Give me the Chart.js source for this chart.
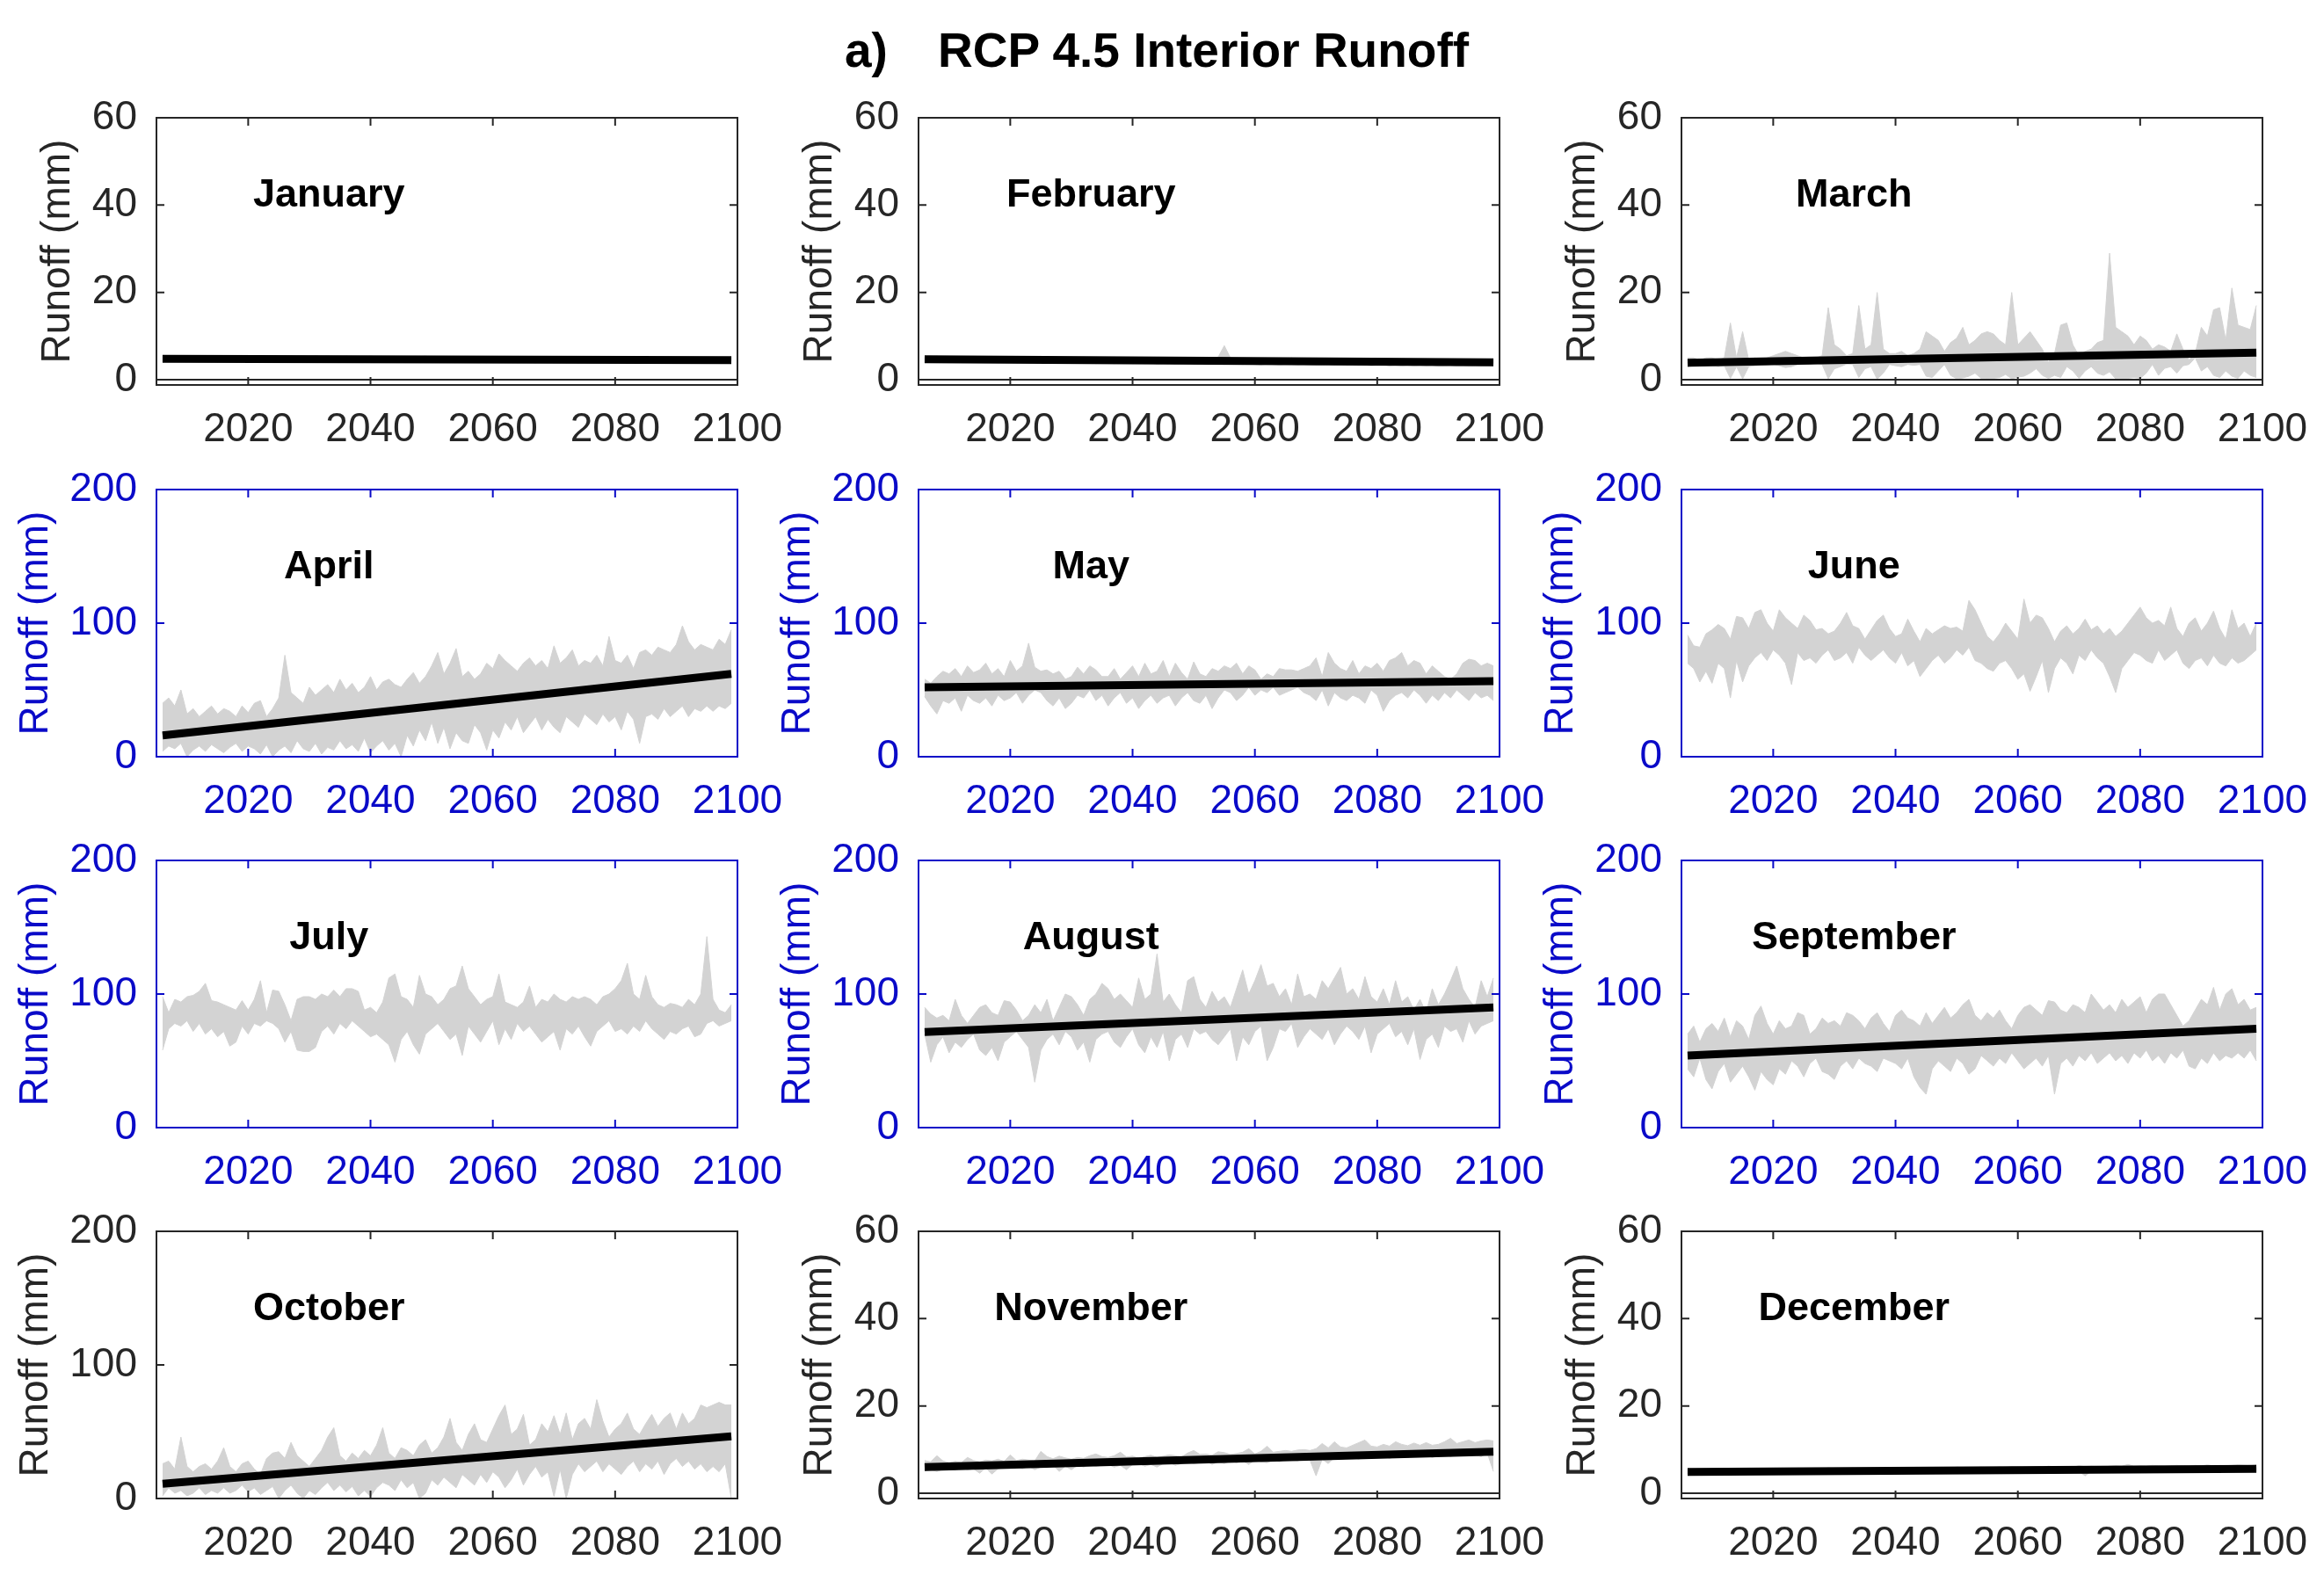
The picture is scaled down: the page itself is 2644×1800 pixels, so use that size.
<!DOCTYPE html>
<html>
<head>
<meta charset="utf-8">
<script src="https://cdn.jsdelivr.net/npm/chart.js@4.4.0/dist/chart.umd.min.js"></script>
<style>
  body { margin: 0; background: #fff; }
  #page { position: relative; width: 2644px; height: 1800px; overflow: hidden; background: #fff; }
  .title { position: absolute; top: 30px; font: bold 55px "Liberation Sans", Arial, sans-serif; line-height: 55px; color: #000; white-space: pre; }
  canvas { position: absolute; }
</style>
</head>
<body>
<div id="page">
  <div class="title" style="left:961px">a)</div>
  <div class="title" style="left:1067px">RCP 4.5 Interior Runoff</div>
</div>
<script>
// years 2006..2099, one value per year
const years = Array.from({ length: 94 }, (_, i) => 2006 + i);
const trendYears = [2006, 2099];
const xTicks = [2020, 2040, 2060, 2080, 2100];
const smallTicks = [0, 20, 40, 60];
const bigTicks = [0, 100, 200];

const janHi = [5.4,5.5,5.3,5.4,5.5,5.4,5.3,5.5,5.4,5.3, 5.4,5.3,5.5,5.4,5.3,5.4,5.4,5.3,5.5,5.4,
  5.3,5.4,5.3,5.4,5.3,5.5,5.3,5.4,5.3,5.3, 5.4,5.3,5.2,5.3,5.4,5.3,5.2,5.3,5.3,5.2,
  5.3,5.2,5.3,5.4,5.2,5.3,5.2,5.3,5.2,5.3, 5.2,5.3,5.2,5.1,5.3,5.2,5.2,5.3,5.1,5.2,
  5.2,5.1,5.2,5.3,5.1,5.2,5.1,5.2,5.1,5.2, 5.1,5.2,5.1,5.0,5.2,5.1,5.1,5.2,5.0,5.1,
  5.1,5.0,5.1,5.2,5.0,5.1,5.0,5.1,5.0,5.1, 5.0,5.1,5.0,5.1];
const janLo = [4.2,4.3,4.1,4.2,4.3,4.2,4.1,4.3,4.2,4.1, 4.2,4.1,4.3,4.2,4.1,4.2,4.2,4.1,4.3,4.2,
  4.1,4.2,4.1,4.2,4.1,4.3,4.1,4.2,4.1,4.1, 4.2,4.1,4.0,4.1,4.2,4.1,4.0,4.1,4.1,4.0,
  4.1,4.0,4.1,4.2,4.0,4.1,4.0,4.1,4.0,4.1, 4.0,4.1,4.0,3.9,4.1,4.0,4.0,4.1,3.9,4.0,
  4.0,3.9,4.0,4.1,3.9,4.0,3.9,4.0,3.9,4.0, 3.9,4.0,3.9,3.8,4.0,3.9,3.9,4.0,3.8,3.9,
  3.9,3.8,3.9,4.0,3.8,3.9,3.8,3.9,3.8,3.9, 3.8,3.9,3.8,3.9];
const janTrend = [4.8, 4.5];

const febHi = [5.3,5.2,5.4,5.2,5.3,5.1,5.2,5.3,5.1,5.2, 5.1,5.2,5.0,5.1,5.2,5.0,5.1,5.0,5.1,5.0,
  5.0,4.9,5.0,5.1,4.9,5.0,4.9,5.0,4.8,4.9, 4.9,4.8,4.9,5.0,4.8,4.9,4.8,4.9,4.7,4.8,
  4.8,4.7,4.8,4.9,4.7,4.8,4.7,4.8,5.2,7.8, 5.0,4.7,4.6,4.7,4.6,4.5,4.7,4.6,4.5,4.6,
  5.0,4.5,4.6,4.5,4.4,4.5,4.6,4.4,4.5,4.4, 4.5,4.4,4.5,4.3,4.4,4.5,4.3,4.4,4.3,4.4,
  4.3,4.4,4.3,4.4,4.2,4.3,4.4,4.2,4.3,4.2, 4.3,4.2,4.3,4.2];
const febLo = [4.2,4.1,4.3,4.1,4.2,4.0,4.1,4.2,4.0,4.1, 4.0,4.1,3.9,4.0,4.1,3.9,4.0,3.9,4.0,3.9,
  3.9,3.8,3.9,4.0,3.8,3.9,3.8,3.9,3.7,3.8, 3.8,3.7,3.8,3.9,3.7,3.8,3.7,3.8,3.6,3.7,
  3.7,3.6,3.7,3.8,3.6,3.7,3.6,3.7,3.6,3.5, 3.6,3.6,3.5,3.6,3.5,3.4,3.6,3.5,3.4,3.5,
  3.5,3.4,3.5,3.4,3.3,3.4,3.5,3.3,3.4,3.3, 3.4,3.3,3.4,3.2,3.3,3.4,3.2,3.3,3.2,3.3,
  3.2,3.3,3.2,3.3,3.1,3.2,3.3,3.1,3.2,3.1, 3.2,3.1,3.2,3.1];
const febTrend = [4.7, 4.0];

const marHi = [5,5,4.5,5,5,4.5,5,13,5,11, 4.5,5,4.5,5,5.5,6,6.5,6,5.5,5,
  5,5,5.5,16.5,8,7,5.5,6,17,7, 8,20,7,6,6,6.5,5.5,6,7,11,
  10,9,6.5,8.5,9.5,12,8,9,10.5,11, 10.5,9,8,20,8,9.5,11,9,7,4,
  6,12.5,13,8,5.5,6.5,7,8.5,9,29, 12,11,10,8,10,9,7,8,7.5,6.5,
  10.5,7,4.5,6,12,10,16,16.5,9,21, 12.5,12,11.5,17];
const marLo = [3,3.2,3.3,3.2,3.3,3,3.2,0.3,3,0.2, 3,3.2,3.3,3.4,3.6,3.2,2.8,3,3.5,3.6,
  3.6,3.8,3.5,0.2,2.5,3,3.6,3.5,0.5,2.5, 3,0.1,1.5,3.5,3.2,3,3.5,3.3,3.5,0.8,
  0.5,2,3.5,1,0.2,0.4,0.8,1.5,0.3,0.2, 0.3,0.5,1.2,0.2,0.6,0.8,1.5,2.5,1,0.3,
  1,0.5,3,2,0.3,2,3,1.5,1,1.8, 0.2,0.3,0.3,0.5,0.3,1.5,3.5,1,2.6,3,
  1.5,3.2,3.5,5,2,3,1,0.5,2,0.8, 0.3,2,1,0.5];
const marTrend = [3.9, 6.2];

const aprHi = [40,44,38,50,32,36,30,34,38,32, 36,34,30,38,33,40,42,30,36,44,
  76,48,44,40,52,46,50,54,48,58, 50,55,48,52,60,50,56,58,54,52,
  58,63,55,60,68,78,62,70,81,60, 64,58,62,70,66,77,72,68,64,70,
  74,68,72,66,83,70,74,80,68,72, 70,76,68,90,72,70,76,66,78,80,
  76,82,80,78,84,98,86,80,84,82, 80,88,84,95];
const aprLo = [4,8,6,10,0,5,8,4,9,6, 3,7,10,4,8,6,2,9,0,5,
  8,3,12,6,4,10,2,7,5,12, 6,9,4,14,3,8,12,5,10,0,
  16,8,20,12,26,10,22,6,18,12, 10,24,18,5,20,14,26,20,30,18,
  24,30,20,28,22,18,30,26,22,32, 28,24,32,26,30,20,34,28,10,30,
  32,28,36,30,34,38,30,36,34,38, 34,38,36,40];
const aprTrend = [16, 62];

const mayHi = [58,55,60,64,62,66,60,68,63,65, 70,62,66,60,72,64,68,85,67,64,
  65,62,64,58,60,67,62,68,65,60, 60,66,58,63,68,60,70,62,64,72,
  60,70,63,58,71,62,60,66,64,68, 66,70,62,68,65,58,62,60,66,65,
  65,64,66,68,74,60,78,70,66,64, 72,62,68,66,70,64,72,74,78,68,
  72,70,62,68,64,60,58,62,70,73, 72,68,70,68];
const mayLo = [45,38,32,42,40,44,34,46,42,40, 44,38,46,42,44,48,40,46,50,48,
  42,38,44,36,40,46,44,50,42,46, 38,44,48,40,44,36,42,46,40,44,
  46,38,44,48,42,40,46,36,44,50, 48,42,46,52,46,50,48,52,46,48,
  50,52,48,46,42,50,38,48,44,42, 46,44,40,50,46,34,42,46,48,44,
  50,46,40,46,42,48,44,50,46,42, 48,44,46,42];
const mayTrend = [52, 56.5];

const junHi = [91,83,82,92,95,99,96,88,105,104, 96,108,110,100,94,110,104,100,96,106,
  102,95,96,92,94,100,108,98,96,88, 95,102,106,96,90,92,103,94,86,96,
  92,95,98,96,97,94,117,110,100,90, 86,92,100,94,88,118,100,106,104,96,
  86,94,98,92,96,103,95,98,92,96, 90,94,100,106,112,104,100,102,98,112,
  96,90,100,104,94,100,109,96,88,110, 96,100,90,100];
const junLo = [70,66,56,64,55,70,66,44,72,56, 68,74,78,72,80,76,70,54,78,72,
  74,70,76,80,72,74,78,70,82,76, 72,76,80,74,70,78,68,72,60,66,
  72,76,70,74,80,76,82,72,70,66, 64,70,72,66,58,62,49,60,72,48,
  66,74,70,62,76,72,80,74,70,60, 48,66,72,78,76,72,70,80,72,76,
  80,70,66,72,74,68,76,70,68,74, 70,72,76,80];

const julHi = [98,86,96,94,98,99,102,108,95,94, 92,90,88,95,88,96,110,86,103,102,
  92,80,96,98,98,96,100,98,103,98, 104,104,102,88,90,86,94,112,115,98,
  96,90,114,100,98,92,96,104,106,121, 104,98,92,96,98,115,94,92,90,94,
  106,90,96,94,100,96,94,98,96,98, 96,92,98,100,104,110,123,100,96,114,
  98,92,90,93,92,90,96,92,100,143, 96,88,86,92];
const julLo = [58,74,78,76,80,72,78,70,74,68, 72,61,64,76,70,78,76,80,78,74,
  64,72,58,57,57,60,72,76,70,78, 74,80,76,72,68,70,66,62,49,66,
  72,62,55,70,74,78,72,66,70,54, 76,70,64,72,80,62,74,66,78,72,
  76,70,64,68,72,58,74,70,76,68, 61,72,76,80,72,74,70,76,72,80,
  74,70,66,72,70,74,76,68,70,78, 80,76,78,80];

const augHi = [90,85,82,84,80,96,84,78,84,90, 92,86,84,95,94,88,80,84,92,86,
  96,80,90,100,98,92,84,96,100,108, 104,96,100,95,90,112,96,100,130,94,
  100,92,86,110,113,96,90,102,94,98, 90,104,118,100,110,122,106,108,98,104,
  92,115,98,100,96,110,104,112,120,100, 104,96,113,98,94,104,92,110,94,98,
  88,96,86,104,92,100,110,121,104,96, 90,110,98,112];
const augLo = [70,49,62,68,56,64,60,66,70,58, 54,60,50,64,68,72,66,60,34,58,
  66,70,62,72,68,58,64,49,66,70, 72,64,60,68,74,62,56,68,60,72,
  50,66,70,60,74,70,72,66,62,68, 74,50,68,62,72,76,50,60,74,72,
  78,60,68,74,70,66,74,62,70,76, 72,66,76,56,70,74,78,68,72,62,
  74,51,66,70,60,76,72,74,64,80, 70,76,78,80];
const augTrend = [71.5, 90];

const sepHi = [70,76,64,74,78,72,82,68,80,76, 66,84,91,78,70,80,74,76,86,84,
  70,74,82,78,80,76,86,84,80,74, 82,86,78,72,84,88,82,80,76,86,
  78,84,90,82,86,92,96,84,80,86, 82,88,80,74,84,90,92,88,84,95,
  94,88,86,92,90,86,100,94,88,92, 86,96,90,94,98,86,96,100,100,92,
  84,76,80,88,96,92,105,88,100,104, 92,96,88,90];
const sepLo = [44,38,52,36,29,42,48,34,40,46, 38,28,42,36,32,44,40,50,46,38,
  48,52,42,40,36,46,50,44,52,48, 46,42,52,50,48,44,52,38,30,25,
  44,50,46,42,52,48,40,44,54,50, 46,52,48,56,50,44,48,52,46,54,
  25,48,52,46,54,50,56,48,52,56, 50,54,48,56,52,58,50,54,48,56,
  52,58,46,44,52,48,56,50,54,52, 56,52,58,50];
const sepTrend = [54, 74];

const octHi = [26,28,22,46,24,20,24,26,22,28, 38,24,20,26,28,22,18,30,34,35,
  30,42,32,28,24,30,36,46,53,32, 28,34,30,36,32,40,53,34,30,38,
  36,32,40,44,34,38,46,60,42,36, 48,56,44,42,52,62,70,48,52,63,
  40,44,56,50,62,48,64,44,56,60, 52,74,58,46,52,56,64,52,48,56,
  63,54,60,64,52,64,56,60,70,68, 70,72,70,70];
const octLo = [2,8,4,6,2,4,8,3,6,4, 8,4,6,10,5,8,3,6,9,0,
  6,10,4,0,6,3,8,12,6,10, 5,9,2,6,1.5,8,12,10,6,14,
  8,12,0,4,14,10,16,12,8,18, 14,10,18,12,20,16,8,14,22,10,
  18,24,16,20,1.5,22,0,18,26,20, 24,28,20,26,22,18,24,28,20,26,
  22,28,18,26,30,24,28,22,26,20, 24,20,26,0];
const octTrend = [11, 46.5];

const novHi = [7.5,7.2,8.6,7.4,7.0,7.3,7.0,8.2,7.5,7.2, 7.6,7.4,7.8,7.3,8.8,7.5,7.8,7.6,7.4,9.6,
  8.4,7.9,8.5,8.1,7.8,8.2,8.0,8.6,9.0,8.4, 8.2,8.6,9.4,8.3,8.5,8.0,8.4,8.7,8.2,8.5,
  8.8,8.6,8.3,9.2,9.8,8.9,9.0,8.7,9.5,9.3, 8.9,9.1,9.4,10.2,9.0,9.6,10.8,9.4,9.6,9.8,
  9.6,9.9,10.0,9.8,10.2,11.4,10.4,11.8,10.6,10.4, 11.0,11.6,12.2,10.8,10.6,11.2,10.8,11.8,11.2,10.9,
  11.5,11.0,11.6,11.0,11.2,11.8,12.6,11.4,11.8,12.2, 11.6,12.0,12.2,12.0];
const novLo = [5.2,5.4,5.0,5.5,5.6,5.3,5.8,5.4,5.6,4.6, 5.8,4.4,5.6,6.0,5.8,6.0,5.6,6.2,5.4,6.0,
  6.2,6.4,5.0,6.2,5.4,6.4,6.0,6.6,6.2,6.4, 6.6,6.0,6.4,5.4,6.6,6.8,6.2,6.6,6.0,6.8,
  7.0,6.4,6.8,7.2,6.8,7.0,7.4,6.6,7.2,6.8, 7.4,7.0,7.4,6.6,7.6,7.2,7.0,7.6,7.2,7.8,
  7.6,7.4,8.0,7.6,4.0,7.8,6.8,8.2,7.8,8.0, 8.2,7.8,8.4,8.0,8.2,8.6,8.0,8.4,8.8,8.2,
  8.6,8.4,8.8,8.2,8.6,9.0,8.4,8.8,8.6,9.0, 8.8,8.4,9.2,5.0];
const novTrend = [6, 9.5];

const decHi = [5.4,5.5,5.4,5.5,5.6,5.4,5.5,5.6,5.5,5.4, 5.6,5.5,5.6,5.5,5.7,5.6,5.5,5.6,5.7,5.6,
  5.6,5.7,5.6,5.8,5.7,5.6,5.7,5.8,5.7,5.6, 5.8,5.7,5.8,5.9,5.7,5.8,5.8,5.9,5.8,5.7,
  5.9,5.8,5.9,5.8,6.0,5.9,5.8,5.9,6.0,5.9, 5.9,6.0,5.9,6.1,6.0,5.9,6.0,6.1,6.0,6.2,
  6.1,6.0,6.1,6.0,6.3,6.1,6.2,6.1,6.0,6.2, 6.3,6.2,6.6,6.2,6.3,6.2,6.4,6.3,6.2,6.3,
  6.4,6.3,6.2,6.4,6.3,6.5,6.3,6.4,6.3,6.4, 6.5,6.4,6.3,6.5];
const decLo = [4.3,4.4,4.3,4.4,4.3,4.4,4.5,4.4,4.3,4.5, 4.4,4.5,4.4,4.5,4.6,4.4,4.5,4.6,4.5,4.4,
  4.6,4.5,4.6,4.5,4.7,4.6,4.5,4.6,4.7,4.6, 4.6,4.7,4.6,4.7,4.8,4.6,4.7,4.8,4.7,4.6,
  4.8,4.7,4.8,4.7,4.9,4.8,4.7,4.8,4.9,4.8, 4.8,4.9,4.8,5.0,4.9,4.8,4.9,5.0,4.9,4.8,
  5.0,4.9,5.0,4.9,5.0,4.0,5.0,5.1,5.0,5.1, 5.1,5.0,5.1,5.2,5.1,5.0,5.2,5.1,5.2,5.1,
  5.2,5.1,5.3,5.2,5.1,5.3,5.2,5.3,5.2,5.3, 5.3,5.2,5.4,5.3];
const decTrend = [4.9, 5.6];

const panels = [
  { name: "January",   lo: janLo, hi: janHi, trend: janTrend, yMax: 60,  blue: false },
  { name: "February",  lo: febLo, hi: febHi, trend: febTrend, yMax: 60,  blue: false },
  { name: "March",     lo: marLo, hi: marHi, trend: marTrend, yMax: 60,  blue: false },
  { name: "April",     lo: aprLo, hi: aprHi, trend: aprTrend, yMax: 200, blue: true },
  { name: "May",       lo: mayLo, hi: mayHi, trend: mayTrend, yMax: 200, blue: true },
  { name: "June",      lo: junLo, hi: junHi, trend: null,     yMax: 200, blue: true },
  { name: "July",      lo: julLo, hi: julHi, trend: null,     yMax: 200, blue: true },
  { name: "August",    lo: augLo, hi: augHi, trend: augTrend, yMax: 200, blue: true },
  { name: "September", lo: sepLo, hi: sepHi, trend: sepTrend, yMax: 200, blue: true },
  { name: "October",   lo: octLo, hi: octHi, trend: octTrend, yMax: 200, blue: false },
  { name: "November",  lo: novLo, hi: novHi, trend: novTrend, yMax: 60,  blue: false },
  { name: "December",  lo: decLo, hi: decHi, trend: decTrend, yMax: 60,  blue: false },
];

const FONT = '"Liberation Sans", Arial, Helvetica, sans-serif';
const BLUE = "#0A0AC8";
const DARK = "#262626";
const GRAY = "#D3D3D3";
const colLeft = [0, 867, 1735];
const rowTop = [95, 518, 940, 1362];

// box, inward ticks, zero baseline and the month name
const framePlugin = {
  id: "frame",
  afterDatasetsDraw(chart, args, opts) {
    const { ctx, chartArea: a, scales: { x, y } } = chart;
    ctx.save();
    ctx.strokeStyle = opts.color;
    ctx.lineWidth = 2;
    ctx.strokeRect(a.left, a.top, a.right - a.left, a.bottom - a.top);
    ctx.beginPath();
    xTicks.forEach(v => {
      const px = x.getPixelForValue(v);
      ctx.moveTo(px, a.bottom); ctx.lineTo(px, a.bottom - 9);
      ctx.moveTo(px, a.top); ctx.lineTo(px, a.top + 9);
    });
    y.ticks.forEach(t => {
      const py = y.getPixelForValue(t.value);
      ctx.moveTo(a.left, py); ctx.lineTo(a.left + 9, py);
      ctx.moveTo(a.right, py); ctx.lineTo(a.right - 9, py);
    });
    if (opts.zeroLine) {
      const p0 = y.getPixelForValue(0);
      ctx.moveTo(a.left, p0); ctx.lineTo(a.right, p0);
    }
    ctx.stroke();

    ctx.fillStyle = "#000";
    ctx.font = "bold 45px " + FONT;
    ctx.textAlign = "center";
    ctx.textBaseline = "middle";
    ctx.fillText(opts.label, a.left + 0.297 * (a.right - a.left), a.top + 0.29 * (a.bottom - a.top));
    ctx.restore();
  }
};

const page = document.getElementById("page");

panels.forEach((p, k) => {
  const canvas = document.createElement("canvas");
  canvas.width = 900;
  canvas.height = 430;
  canvas.style.width = "900px";
  canvas.style.height = "430px";
  canvas.style.left = colLeft[k % 3] + "px";
  canvas.style.top = rowTop[Math.floor(k / 3)] + "px";
  page.appendChild(canvas);

  const small = p.yMax === 60;
  const color = p.blue ? BLUE : DARK;
  const yTicks = small ? smallTicks : bigTicks;

  const datasets = [];
  if (p.trend) {
    datasets.push({
      data: trendYears.map((x, i) => ({ x, y: p.trend[i] })),
      borderColor: "#000", borderWidth: 9, borderCapStyle: "butt",
      pointRadius: 0, fill: false,
    });
  }
  datasets.push({
    data: years.map((x, i) => ({ x, y: p.lo[i] })),
    borderColor: GRAY, borderWidth: 1, pointRadius: 0, fill: false,
  });
  datasets.push({
    data: years.map((x, i) => ({ x, y: p.hi[i] })),
    borderColor: GRAY, borderWidth: 1, pointRadius: 0,
    fill: "-1", backgroundColor: GRAY,
  });

  new Chart(canvas.getContext("2d"), {
    type: "line",
    data: { datasets },
    options: {
      responsive: false,
      animation: false,
      devicePixelRatio: 1,
      layout: { padding: { left: 0, top: 39, right: 61, bottom: 8 } },
      plugins: {
        legend: { display: false },
        tooltip: { enabled: false },
        frame: { color, zeroLine: small, label: p.name },
      },
      scales: {
        x: {
          type: "linear", min: 2005, max: 2100,
          afterBuildTicks: s => { s.ticks = xTicks.map(v => ({ value: v })); },
          afterFit: s => { s.height = 79; s.paddingLeft = 0; s.paddingRight = 0; },
          grid: { display: false, drawTicks: false },
          border: { display: false },
          ticks: {
            font: { family: FONT, size: 46 }, color, padding: 24,
            maxRotation: 0, autoSkip: false, callback: v => String(v),
          },
        },
        y: {
          type: "linear", min: small ? -1.2 : 0, max: p.yMax,
          afterBuildTicks: s => { s.ticks = yTicks.map(v => ({ value: v })); },
          afterFit: s => { s.width = 178; s.paddingTop = 0; s.paddingBottom = 0; },
          grid: { display: false, drawTicks: false },
          border: { display: false },
          ticks: {
            font: { family: FONT, size: 46 }, color, padding: 22,
            autoSkip: false, callback: v => String(v),
          },
          title: {
            display: true, text: "Runoff (mm)", color,
            font: { family: FONT, size: 46 },
            padding: { top: small ? 39 : 14, bottom: 0 },
          },
        },
      },
    },
    plugins: [framePlugin],
  });
});
</script>
</body>
</html>
